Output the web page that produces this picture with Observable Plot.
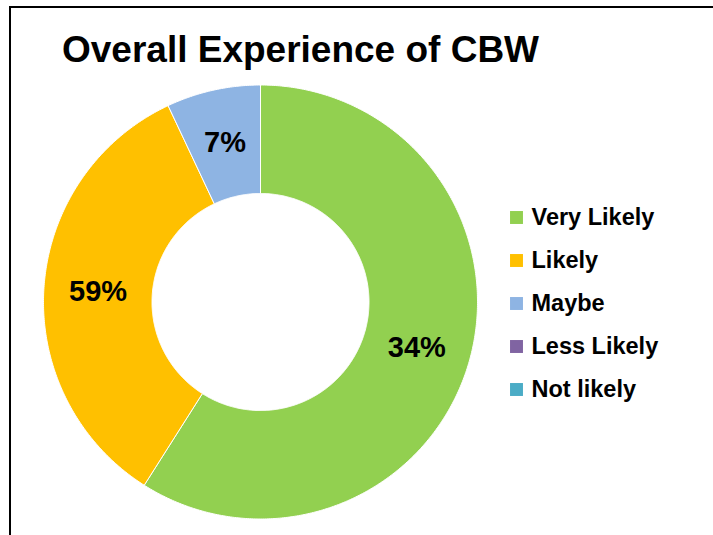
<!DOCTYPE html>
<html>
<head>
<meta charset="utf-8">
<script src="https://cdn.jsdelivr.net/npm/d3@7"></script>
<script src="https://cdn.jsdelivr.net/npm/@observablehq/plot@0.6"></script>
<style>
  html, body { margin: 0; padding: 0; background: #fff; }
  #wrap { position: relative; width: 713px; height: 535px; overflow: hidden; background: #fff;
          font-family: "Century Gothic", "Liberation Sans", Arial, sans-serif; }
  #title { position: absolute; left: 62px; top: 31px; font-size: 37px; line-height: 37px; font-weight: bold;
           color: #000; white-space: nowrap; }
  #donut { position: absolute; left: 0; top: 0; }
  #legend { position: absolute; left: 500px; top: 190px; }
  .bl { position: absolute; left: 9px; top: 6px; width: 2px; height: 529px; background: #000; }
  .bt { position: absolute; left: 9px; top: 6px; width: 704px; height: 2px; background: #000; }
</style>
</head>
<body>
<div id="wrap">
  <div id="donut"></div>
  <div id="legend"></div>
  <div id="title">Overall Experience of CBW</div>
  <div class="bl"></div>
  <div class="bt"></div>
</div>
<script>
// ---- data ----
const categories = ["Very Likely", "Likely", "Maybe", "Less Likely", "Not likely"];
const shares = [59, 34, 7, 0, 0];           // slice sizes as drawn
const labels = ["34%", "59%", "7%", "", ""]; // data labels as printed
const colors = ["#92D050", "#FFC000", "#8EB4E3", "#8064A2", "#4BACC6"];

const rows = categories.map((c, i) => ({category: c, share: shares[i], label: labels[i]}));
const arcs = d3.pie().sort(null).value(d => d.share)(rows);

const inner = 0.5, outer = 1;
const ring = [];
for (const a of arcs) {
  if (a.endAngle <= a.startAngle) continue;
  const n = Math.max(2, Math.ceil((a.endAngle - a.startAngle) / (Math.PI / 360)));
  const pts = [];
  for (let i = 0; i <= n; i++) {
    const t = a.startAngle + (a.endAngle - a.startAngle) * i / n;
    pts.push({category: a.data.category, x: outer * Math.sin(t), y: outer * Math.cos(t)});
  }
  for (let i = n; i >= 0; i--) {
    const t = a.startAngle + (a.endAngle - a.startAngle) * i / n;
    pts.push({category: a.data.category, x: inner * Math.sin(t), y: inner * Math.cos(t)});
  }
  pts.push(pts[0]);
  ring.push(...pts);
}
const labelPts = arcs.filter(a => a.data.label).map(a => {
  const m = (a.startAngle + a.endAngle) / 2, r = (inner + outer) / 2;
  return {x: r * Math.sin(m), y: r * Math.cos(m), label: a.data.label};
});

const font = '"Century Gothic", "Liberation Sans", Arial, sans-serif';
const colorScale = {domain: categories, range: colors};

const donut = Plot.plot({
  width: 480, height: 535,
  marginLeft: 43, marginRight: 3, marginTop: 84.5, marginBottom: 16.5,
  x: {domain: [-1, 1], axis: null},
  y: {domain: [-1, 1], axis: null},
  color: colorScale,
  style: {background: "transparent", fontFamily: font},
  marks: [
    Plot.line(ring, {x: "x", y: "y", z: "category", fill: "category", stroke: "white", strokeWidth: 1, curve: "linear"}),
    Plot.text(labelPts, {x: "x", y: "y", text: "label", fontSize: 29, fontWeight: "bold", fill: "black"})
  ]
});
document.getElementById("donut").appendChild(donut);

const legend = Plot.plot({
  width: 213, height: 220,
  marginLeft: 0, marginRight: 0, marginTop: 25, marginBottom: 20,
  y: {type: "point", domain: categories, axis: null, padding: 0},
  color: colorScale,
  style: {background: "transparent", fontFamily: font, overflow: "visible"},
  marks: [
    Plot.dot(categories, {y: d => d, frameAnchor: "left", dx: 16, symbol: "square", r: 7.3, fill: d => d, stroke: null}),
    Plot.text(categories, {y: d => d, frameAnchor: "left", dx: 31, textAnchor: "start", text: d => d, fontSize: 23.5, fontWeight: "bold", fill: "black"})
  ]
});
document.getElementById("legend").appendChild(legend);
</script>
</body>
</html>
